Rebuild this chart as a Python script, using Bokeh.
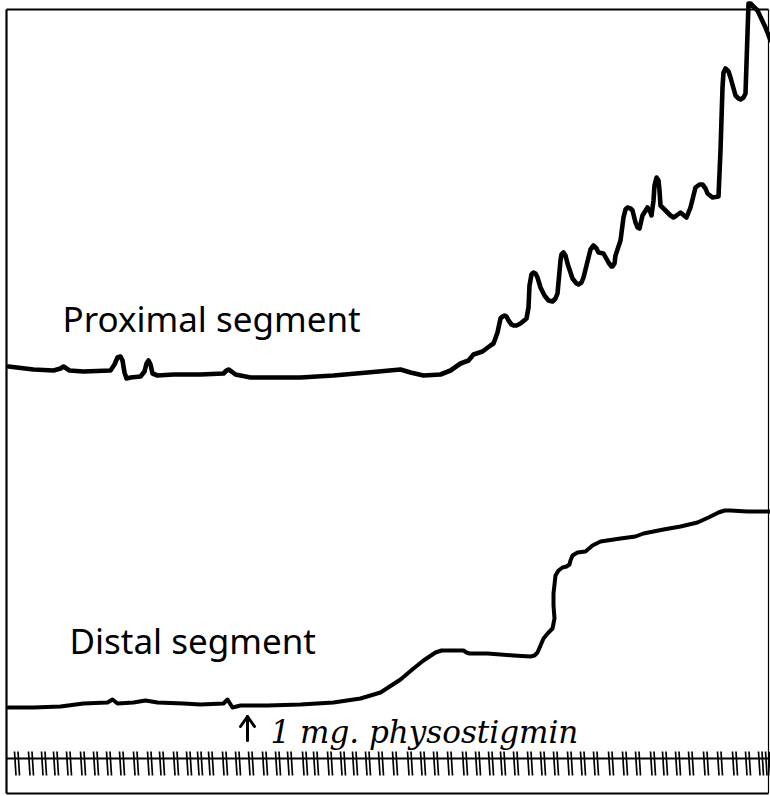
from bokeh.plotting import figure
from bokeh.models import Range1d
from bokeh.core.properties import value
from bokeh.embed import file_html
from bokeh.resources import INLINE

# Kymograph tracings (x = drum position, y = pen position; y grows downward)
prox_x = [8, 33, 53, 60, 63, 66, 69, 83, 110, 114, 117, 120, 122,
          124, 126, 130, 140, 144, 146, 148, 150, 152, 157, 173, 200, 223,
          226, 228, 231, 235, 250, 267, 300, 333, 367, 400, 410, 423,
          440, 450, 460, 468, 473, 482, 490, 493, 497, 500, 502,
          504, 506, 508, 511, 513, 516, 520, 526, 528, 529, 531, 533, 535, 537, 540,
          544, 548, 552, 555, 557, 560, 561, 563, 565, 567, 572, 576, 578, 581, 583, 588,
          590, 593, 596, 598, 603, 608, 611, 612, 614, 615, 620, 623, 625, 627, 630, 632,
          635, 637, 639, 642, 647, 650, 651, 653, 654, 656, 658, 659, 660, 665,
          670, 673, 676, 680, 686, 690, 695, 699, 702, 705, 707, 712, 718, 720,
          722, 723, 725, 728, 730, 735, 738, 740, 743, 745, 747, 748, 750, 757,
          765, 770]
prox_y = [366, 369, 370, 368, 366, 368, 370, 371, 370, 364, 357, 356, 360,
          372, 378, 377, 376, 371, 363, 360, 364, 373, 375, 374, 374, 373,
          370, 369, 371, 374, 377, 377, 377, 375, 372, 369, 372, 375,
          374, 370, 363, 360, 354, 351, 345, 343, 332, 318, 316,
          315, 316, 320, 324, 325, 325, 323, 318, 307, 285, 274, 272, 273, 277, 287,
          295, 300, 301, 298, 293, 260, 254, 252, 255, 263, 278, 283, 284, 282, 277, 257,
          249, 245, 248, 252, 253, 262, 266, 266, 263, 255, 240, 217, 209, 207, 208, 210,
          222, 227, 228, 215, 207, 212, 215, 200, 185, 177, 180, 190, 205, 210,
          215, 217, 215, 212, 217, 207, 187, 184, 184, 188, 193, 197, 196, 150,
          87, 72, 68, 71, 77, 95, 98, 99, 97, 93, 33, 3, 3, 10,
          27, 40]

dist_x = [8, 33, 60, 83, 107, 112, 117, 133, 145, 157,
          183, 200, 223, 227, 232, 240, 267, 300, 333, 360,
          380, 400, 413, 423, 435, 441, 447, 463, 466, 469, 487, 513,
          530, 534, 537, 543, 548, 552, 554, 553, 553, 555, 558, 562, 566, 569, 570, 572,
          577, 585, 592, 600, 620, 635, 643, 663, 680, 697,
          708, 718, 724, 730, 747, 770]
dist_y = [707, 707, 706, 703, 702, 699, 703, 702, 700, 702,
          703, 704, 703, 699, 707, 705, 705, 704, 702, 698,
          692, 679, 668, 660, 652, 650, 650, 650, 652, 653, 653, 655,
          656, 655, 652, 638, 632, 628, 618, 605, 593, 575, 570, 567, 566, 564, 560, 555,
          552, 551, 545, 541, 538, 536, 533, 529, 526, 522,
          517, 512, 510, 510, 511, 511]

# time marker ticks
time_ticks = [14, 28, 41, 53, 66, 80, 93, 106, 119, 133,
              147, 159, 173, 186, 197, 208, 222, 235, 248, 262,
              275, 287, 302, 313, 327, 340, 352, 365, 378, 392,
              407, 420, 433, 447, 462, 475, 488, 500, 513, 527,
              540, 553, 567, 580, 593, 608, 622, 635, 650, 662,
              675, 688, 703, 717, 732, 745, 758, 765]

label_text = ["Proximal segment", "Distal segment"]
label_x = [62, 69]
label_y = [318, 640]

note_text = ["1 mg. physostigmin"]
note_x = [270]
note_y = [731]
arrow_x = 247

p = figure(width=770, height=796,
           x_range=Range1d(0, 770), y_range=Range1d(796, 0),
           output_backend="svg", toolbar_location=None,
           x_axis_location=None, y_axis_location=None,
           min_border=0)
p.grid.visible = False
p.outline_line_color = None
p.background_fill_color = "white"
p.border_fill_color = "white"

# frame
p.segment(x0=[6, 6, 768, 6], y0=[9, 9, 9, 793], x1=[6, 768, 768, 768], y1=[793, 9, 793, 793],
          line_color="black", line_width=[2.2, 2.2, 1.2, 2.2])

# traces
p.line(prox_x, prox_y, line_color="black", line_width=4.6, line_join="round", line_cap="round")
p.line(dist_x, dist_y, line_color="black", line_width=4, line_join="round", line_cap="round")

# time marker
p.segment(x0=[6], y0=[758], x1=[768], y1=[758], line_color="black", line_width=2)
tx0 = [t for t in time_ticks] + [t + 3.5 for t in time_ticks]
tx1 = [t + 1.5 for t in time_ticks] + [t + 5 for t in time_ticks]
p.segment(x0=tx0, y0=[751] * len(tx0), x1=tx1, y1=[775] * len(tx0),
          line_color="black", line_width=1.7)

# labels
p.text(x=label_x, y=label_y, text=label_text, text_font=value("Noto Sans"),
       text_font_size="35px", text_baseline="alphabetic", text_align="left", text_color="black")
p.text(x=note_x, y=note_y, text=note_text, text_font=value("DejaVu Serif"),
       text_font_style="italic", text_font_size="31px", text_baseline="alphabetic",
       text_align="left", text_color="black")

# arrow marking the injection
p.segment(x0=[arrow_x, arrow_x, arrow_x], y0=[740, 716, 716],
          x1=[arrow_x, arrow_x - 7, arrow_x + 7], y1=[717, 726, 726],
          line_color="black", line_width=3, line_cap="round")

open("out.html", "w").write(file_html(p, INLINE))
